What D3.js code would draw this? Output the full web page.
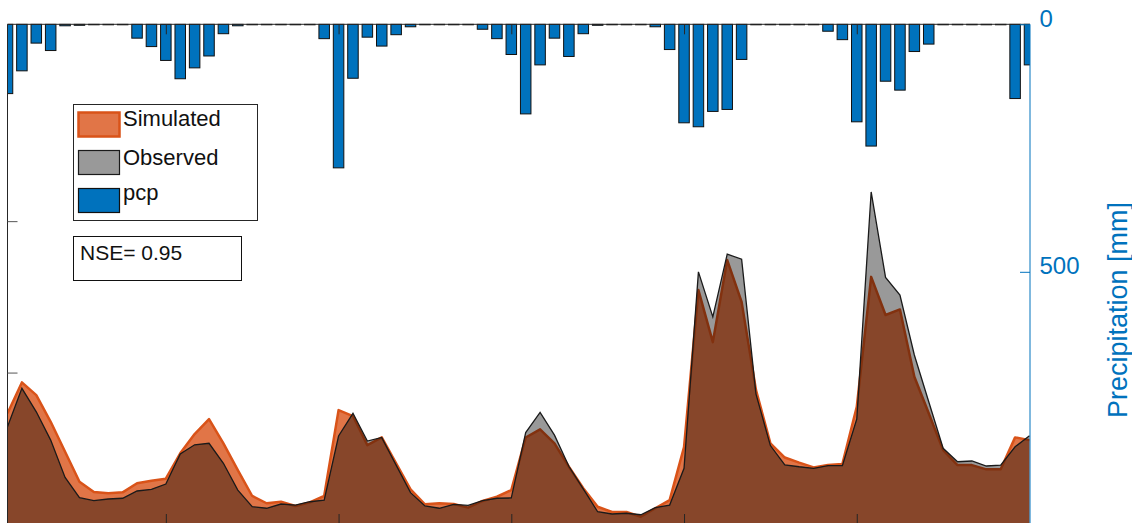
<!DOCTYPE html>
<html>
<head>
<meta charset="utf-8">
<script src="https://cdn.jsdelivr.net/npm/d3@7/dist/d3.min.js"></script>
<style>
  html, body { margin: 0; padding: 0; background: #fff; }
  svg { display: block; font-family: "Liberation Sans", Arial, sans-serif; }
</style>
</head>
<body>
<svg id="chart" width="1132" height="523"></svg>
<script>
// monthly series, 72 months
const observed = [64.2, 89.6, 74.1, 55.4, 30.8, 17.4, 15.4, 16.5, 17.0, 21.8, 22.9, 26.4,
  46.2, 52.3, 53.3, 40.1, 22.4, 11.4, 10.4, 13.2, 12.5, 14.7, 15.8, 58.1,
  73.1, 54.8, 57.2, 38.9, 20.7, 11.9, 10.4, 13.0, 12.3, 15.4, 17.0, 17.2,
  60.4, 73.7, 58.7, 38.1, 23.2, 8.1, 6.6, 7.1, 6.1, 10.8, 12.5, 36.8,
  166.5, 136.8, 178.2, 174.9, 85.8, 51.8, 39.1, 37.8, 36.8, 38.5, 38.5, 69.3,
  219.3, 162.8, 151.2, 111.6, 80.7, 50.0, 41.1, 41.6, 38.3, 38.9, 51.0, 58.3];

const simulated = [73.1, 93.5, 85.1, 67.5, 47.7, 27.9, 21.1, 20.3, 20.9, 26.9, 28.6, 29.9,
  46.7, 59.4, 69.3, 53.3, 35.6, 18.5, 13.7, 14.7, 11.9, 14.3, 18.5, 75.2,
  71.3, 52.1, 57.2, 40.1, 22.9, 13.0, 13.7, 13.2, 10.8, 15.2, 18.0, 22.4,
  57.1, 62.5, 53.3, 37.8, 23.6, 11.4, 7.9, 7.9, 4.8, 10.4, 15.8, 50.8,
  154.5, 120.1, 174.3, 146.7, 88.4, 53.3, 43.9, 40.5, 37.4, 38.9, 39.6, 77.4,
  163.2, 138.0, 141.7, 97.2, 73.1, 48.8, 38.9, 38.9, 36.1, 36.1, 57.2, 55.4];

const pcp = [140, 94, 38, 53, 3, 2, 1, 1, 1, 28, 45, 73,
  110, 88, 64, 19, 3, 1, 1, 1, 1, 1, 29, 290,
  109, 26, 44, 21, 5, 1, 1, 1, 1, 10, 29, 61,
  181, 82, 28, 65, 19, 2, 1, 1, 1, 5, 51, 199,
  207, 176, 172, 71, 1, 1, 1, 1, 1, 14, 31, 197,
  246, 115, 133, 55, 40, 1, 1, 1, 1, 1, 150, 82];

const yearTicks = [11, 23, 35, 47, 59];
const flowTicks = [100, 200];
const pcpTicks = [0, 500];
const legendLabels = ["Simulated", "Observed", "pcp"];
const nseText = "NSE= 0.95";

const pLeft = 7.5, pRight = 1030, pTop = 24.3, pBottom = 524;
const svg = d3.select("#chart");

const x = d3.scaleLinear().domain([0, pcp.length - 1]).range([pLeft, pRight - 0.5]);
const yL = d3.scaleLinear().domain([0, 330]).range([pBottom, pTop]);
const yR = d3.scaleLinear().domain([0, 1000]).range([pTop, 519.3]);

svg.append("defs").append("clipPath").attr("id", "plotClip")
  .append("rect").attr("x", pLeft).attr("y", pTop - 1).attr("width", pRight - pLeft).attr("height", pBottom - pTop + 2);

const plot = svg.append("g").attr("clip-path", "url(#plotClip)");

const idx = d3.range(pcp.length);
const area = vals => d3.area().x(i => x(i)).y0(yL(0)).y1(i => yL(vals[i]))(idx);
const line = vals => d3.line().x(i => x(i)).y(i => yL(vals[i]))(idx);

// simulated
plot.append("path").attr("d", area(simulated))
  .attr("fill", "#D95319").attr("fill-opacity", 0.8);
plot.append("path").attr("d", line(simulated))
  .attr("fill", "none").attr("stroke", "#D95319").attr("stroke-width", 2.5).attr("stroke-linejoin", "round");

// observed
plot.append("path").attr("d", area(observed))
  .attr("fill", "#000").attr("fill-opacity", 0.4);
plot.append("path").attr("d", line(observed))
  .attr("fill", "none").attr("stroke", "#1a1a1a").attr("stroke-width", 1.3);

// precipitation bars hanging from the top
const bw = 0.73 * (x(1) - x(0));
plot.selectAll("rect.pcp").data(idx).enter().append("rect")
  .attr("class", "pcp")
  .attr("x", i => x(i) - bw / 2)
  .attr("y", yR(0))
  .attr("width", bw)
  .attr("height", i => yR(pcp[i]) - yR(0))
  .attr("fill", "#0072BD")
  .attr("stroke", "#111")
  .attr("stroke-width", 1);

// axes frame
svg.append("line").attr("x1", pLeft).attr("x2", pRight).attr("y1", pTop).attr("y2", pTop)
  .attr("stroke", "#262626").attr("stroke-width", 1);

const axL = svg.append("g").attr("transform", `translate(${pLeft},0)`)
  .call(d3.axisRight(yL).tickValues(flowTicks).tickSize(10).tickFormat(""));
axL.select(".domain").attr("stroke", "#262626").attr("d", `M0,${pTop}V${pBottom}`);
axL.selectAll(".tick line").attr("stroke", "#555");

const axB = svg.append("g").attr("transform", `translate(0,${pBottom})`)
  .call(d3.axisTop(x).tickValues(yearTicks).tickSize(10).tickFormat(""));
axB.select(".domain").remove();
axB.selectAll(".tick line").attr("stroke", "#262626");

const axT = svg.append("g").attr("transform", `translate(0,${pTop})`)
  .call(d3.axisBottom(x).tickValues(yearTicks).tickSize(10).tickFormat(""));
axT.select(".domain").remove();
axT.selectAll(".tick line").attr("stroke", "#262626");

const axR = svg.append("g").attr("transform", `translate(${pRight},0)`)
  .call(d3.axisLeft(yR).tickValues(pcpTicks).tickSize(10).tickFormat(d3.format("d")));
axR.select(".domain").attr("stroke", "#0072BD").attr("d", `M0,${pTop}V${pBottom}`);
axR.selectAll(".tick line").attr("stroke", "#0072BD");
axR.selectAll(".tick text")
  .attr("x", 9.5).attr("dy", null).attr("y", 2)
  .attr("text-anchor", "start")
  .attr("font-size", 24).attr("font-family", "Liberation Sans, Arial, sans-serif")
  .attr("fill", "#0072BD");

svg.append("text")
  .attr("transform", "translate(1127,310) rotate(-90)")
  .attr("text-anchor", "middle")
  .attr("font-size", 27)
  .attr("fill", "#0072BD")
  .text("Precipitation [mm]");

// legend
const lg = svg.append("g");
lg.append("rect").attr("x", 73.5).attr("y", 104.5).attr("width", 184).attr("height", 116)
  .attr("fill", "#fff").attr("stroke", "#262626").attr("stroke-width", 1);
const swatches = [
  { y: 112.5, fill: "#D95319", op: 0.8, stroke: "#D95319", sw: 2.5, ty: 126 },
  { y: 150.5, fill: "#000", op: 0.4, stroke: "#1a1a1a", sw: 1.2, ty: 164.5 },
  { y: 188.5, fill: "#0072BD", op: 1, stroke: "#111", sw: 1.2, ty: 199.5 }
];
swatches.forEach((s, k) => {
  lg.append("rect").attr("x", 78.5).attr("y", s.y).attr("width", 41).attr("height", 24)
    .attr("fill", s.fill).attr("fill-opacity", s.op)
    .attr("stroke", s.stroke).attr("stroke-width", s.sw);
  lg.append("text").attr("x", 123).attr("y", s.ty)
    .attr("font-size", 22).attr("fill", "#111").text(legendLabels[k]);
});

// NSE box
svg.append("rect").attr("x", 73.5).attr("y", 236.5).attr("width", 168).attr("height", 44)
  .attr("fill", "#fff").attr("stroke", "#111").attr("stroke-width", 1);
svg.append("text").attr("x", 80).attr("y", 259.5)
  .attr("font-size", 21).attr("fill", "#111").text(nseText);
</script>
</body>
</html>
